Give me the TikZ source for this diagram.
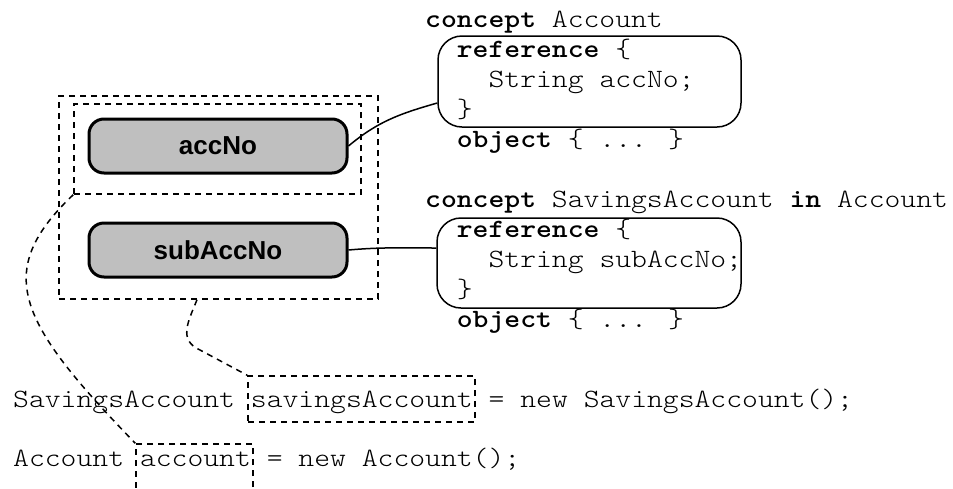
\documentclass[tikz,border=0pt]{standalone}
\usepackage{fontspec}
\setmainfont{Liberation Sans}
\setsansfont{Liberation Sans}
\usetikzlibrary{calc}

% typewriter text, widened to a 15.85pt character pitch
\newcommand\cwide[1]{\scalebox{1.143}[1]{#1}}

\begin{document}
\begin{tikzpicture}[x=1pt,y=1pt,
  dashbox/.style={draw, dash pattern=on 6pt off 5pt, line width=1.5pt, inner sep=0pt},
  leader/.style={dash pattern=on 6pt off 5pt, line width=1.5pt},
  field/.style={draw, line width=3pt, fill=black!25, rounded corners=15pt,
    minimum width=258pt, minimum height=54pt, inner sep=0pt,
    font=\fontsize{26}{30}\selectfont\sffamily\bfseries},
  codebox/.style={draw, line width=1.5pt, rounded corners=24pt, inner sep=0pt},
  code/.style={anchor=base west, inner sep=0pt,
    font=\fontsize{26.4}{30}\selectfont\ttfamily\fontseries{l}\selectfont},
  link/.style={line width=1.5pt}]

\useasboundingbox (0,0) rectangle (953,-488);

% nested scopes around the two fields
\node[dashbox, minimum width=319pt, minimum height=203pt] (outer) at (218.5,-197.5) {};
\node[dashbox, minimum width=287pt, minimum height=90pt] (inner) at (217.5,-149) {};

% the two fields
\node[field] (accNo) at (218,-146) {accNo};
\node[field] (subAccNo) at (218,-250) {subAccNo};

% concept Account
\node[code] (c1l1) at (425,-27) {\cwide{\textbf{concept} Account}};
\node[codebox, minimum width=303pt, minimum height=91pt] (box1) at (589.5,-81.5) {};
\node[code] (c1l2) at (456.7,-57) {\cwide{\textbf{reference} \{}};
\node[code] (c1l3) at (488.4,-87) {\cwide{String accNo;}};
\node[code] (c1l4) at (456.7,-117) {\cwide{\}}};
\node[code] (c1l5) at (456.7,-147) {\cwide{\textbf{object} \{ ... \}}};

% concept SavingsAccount
\node[code] (c2l1) at (425,-207) {\cwide{\textbf{concept} SavingsAccount \textbf{in} Account}};
\node[codebox, minimum width=304pt, minimum height=90pt] (box2) at (589,-263) {};
\node[code] (c2l2) at (456.7,-237) {\cwide{\textbf{reference} \{}};
\node[code] (c2l3) at (488.4,-267) {\cwide{String subAccNo;}};
\node[code] (c2l4) at (456.7,-297) {\cwide{\}}};
\node[code] (c2l5) at (456.7,-327) {\cwide{\textbf{object} \{ ... \}}};

% statements
\node[code] (s1a) at (13,-407) {\cwide{SavingsAccount}};
\node[code] (s1b) at (250.75,-407) {\cwide{savingsAccount}};
\node[code] (s1c) at (488.5,-407) {\cwide{= new SavingsAccount();}};
\node[code] (s2a) at (13,-466) {\cwide{Account}};
\node[code] (s2b) at (139.8,-466) {\cwide{account}};
\node[code] (s2c) at (266.6,-466) {\cwide{= new Account();}};

% dashed marks around the variables
\node[dashbox, minimum width=227pt, minimum height=46pt] (savbox) at (361.5,-399) {};
\node[dashbox, minimum width=117pt, minimum height=80pt] (accbox) at (194.5,-484) {};

% fields to their declarations
\draw[link] (accNo.east) to[out=40,in=196] ($(box1.west)+(0,-21.5)$);
\draw[link] (subAccNo.east) to[out=5,in=180] ($(box2.west)+(0,15)$);

% scopes to variables
\draw[leader] (inner.south west) .. controls (-8,-272) and (18,-322) .. (accbox.north west);
\coordinate (rstart) at ($(outer.south)+(-21.5,0)$);
\coordinate (rbend) at (200,-350);
\draw[leader] (rstart) .. controls (188,-322) and (178,-340) .. (rbend) -- (savbox.north west);
\end{tikzpicture}
\end{document}
